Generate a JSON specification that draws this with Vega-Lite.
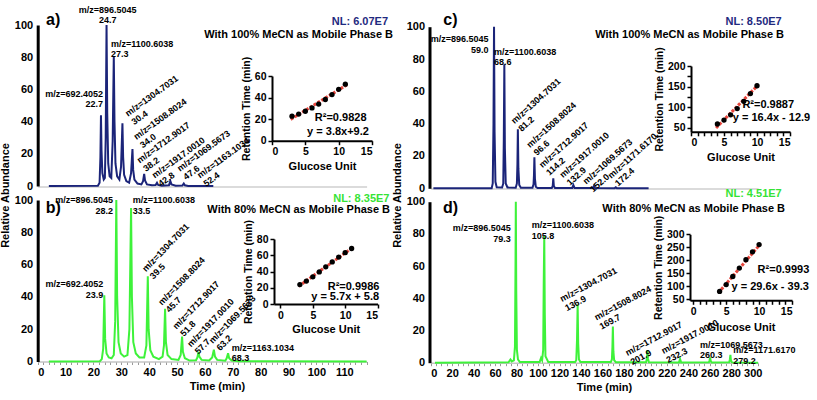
{
"$schema": "https://vega.github.io/schema/vega-lite/v6.json",
"width": 817, "height": 400, "autosize": {"type": "none"}, "padding": 0,
"config": {"view": {"stroke": null}, "font": "Liberation Sans",
  "axis": {"grid": false, "labelFontWeight": "bold", "titleFontWeight": "bold", "labelColor": "#000", "titleColor": "#000", "labelFontSize": 11, "titleFontSize": 11, "labelFont": "Liberation Sans", "titleFont": "Liberation Sans"}},
"datasets": {
"chromA": [{"t":4,"v":0},{"t":21.6,"v":0.2},{"t":22.2,"v":2},{"t":22.5,"v":18},{"t":22.7,"v":44},{"t":22.9,"v":22},{"t":23.2,"v":8},{"t":23.7,"v":4},{"t":24.1,"v":5},{"t":24.4,"v":30},{"t":24.7,"v":100},{"t":24.95,"v":45},{"t":25.3,"v":14},{"t":25.8,"v":6},{"t":26.4,"v":5},{"t":26.9,"v":28},{"t":27.3,"v":80.5},{"t":27.55,"v":40},{"t":27.9,"v":14},{"t":28.5,"v":6},{"t":29.3,"v":4},{"t":29.9,"v":12},{"t":30.4,"v":39},{"t":30.65,"v":18},{"t":31.0,"v":7},{"t":31.8,"v":3},{"t":32.8,"v":2},{"t":33.5,"v":8},{"t":34.0,"v":23},{"t":34.25,"v":10},{"t":34.7,"v":4},{"t":35.8,"v":1.5},{"t":37.2,"v":1},{"t":37.8,"v":3},{"t":38.2,"v":7.5},{"t":38.5,"v":3.5},{"t":39.2,"v":1},{"t":41,"v":0.4},{"t":42.3,"v":0.6},{"t":42.8,"v":2},{"t":43.2,"v":0.7},{"t":44.5,"v":0.2},{"t":47.1,"v":0.5},{"t":47.6,"v":3},{"t":48.0,"v":1},{"t":49.5,"v":0.2},{"t":51.9,"v":0.3},{"t":52.4,"v":1.5},{"t":52.8,"v":0.4},{"t":54,"v":0},{"t":63,"v":0}],
"chromB": [{"t":4,"v":0},{"t":22.3,"v":0.2},{"t":23.0,"v":1.5},{"t":23.5,"v":8},{"t":23.9,"v":41},{"t":24.2,"v":14},{"t":24.7,"v":5},{"t":25.5,"v":2.5},{"t":26.5,"v":2},{"t":27.3,"v":4},{"t":27.8,"v":25},{"t":28.2,"v":100},{"t":28.5,"v":40},{"t":29.0,"v":12},{"t":29.8,"v":5},{"t":31.0,"v":3},{"t":32.2,"v":4},{"t":32.9,"v":20},{"t":33.5,"v":95},{"t":33.8,"v":40},{"t":34.3,"v":12},{"t":35.2,"v":5},{"t":36.5,"v":2.5},{"t":38.2,"v":2.5},{"t":39.0,"v":10},{"t":39.5,"v":52.7},{"t":39.8,"v":20},{"t":40.4,"v":7},{"t":41.5,"v":3},{"t":43.5,"v":1.5},{"t":44.8,"v":3},{"t":45.3,"v":10},{"t":45.7,"v":32.6},{"t":46.0,"v":12},{"t":46.6,"v":4},{"t":48,"v":1.5},{"t":50.5,"v":1},{"t":51.3,"v":4},{"t":51.8,"v":15.4},{"t":52.1,"v":6},{"t":52.8,"v":2},{"t":54.5,"v":0.6},{"t":56.8,"v":0.8},{"t":57.3,"v":2.5},{"t":57.7,"v":6},{"t":58.0,"v":3},{"t":58.8,"v":1},{"t":61.5,"v":0.6},{"t":62.6,"v":2.5},{"t":63.2,"v":7.3},{"t":63.6,"v":3},{"t":64.4,"v":1},{"t":67.3,"v":0.5},{"t":67.8,"v":2},{"t":68.3,"v":5.1},{"t":68.7,"v":2},{"t":69.6,"v":0.6},{"t":72,"v":0.1},{"t":118,"v":0}],
"chromC": [{"t":2.5,"v":0},{"t":56.8,"v":0},{"t":57.8,"v":3},{"t":58.5,"v":40},{"t":59.0,"v":100},{"t":59.5,"v":35},{"t":60.3,"v":4},{"t":61.5,"v":0.6},{"t":66.5,"v":0.5},{"t":67.6,"v":3},{"t":68.1,"v":30},{"t":68.6,"v":76.7},{"t":69.1,"v":25},{"t":69.9,"v":3},{"t":71.5,"v":0.5},{"t":79.2,"v":0.4},{"t":80.3,"v":3},{"t":80.8,"v":15},{"t":81.2,"v":36.5},{"t":81.7,"v":12},{"t":82.5,"v":2},{"t":84,"v":0.3},{"t":94.8,"v":0.3},{"t":95.8,"v":2.5},{"t":96.2,"v":8},{"t":96.6,"v":19.2},{"t":97.1,"v":6},{"t":97.9,"v":1},{"t":99.5,"v":0.2},{"t":112.8,"v":0.2},{"t":113.7,"v":1.5},{"t":114.2,"v":6.2},{"t":114.7,"v":1.5},{"t":115.8,"v":0.2},{"t":131.8,"v":0.2},{"t":132.9,"v":2},{"t":134,"v":0.2},{"t":151,"v":0.2},{"t":152,"v":1.4},{"t":153,"v":0.2},{"t":171.5,"v":0.1},{"t":172.4,"v":0.6},{"t":173.3,"v":0.1},{"t":203,"v":0}],
"chromD": [{"t":4,"v":0},{"t":72.5,"v":0.3},{"t":74.3,"v":2},{"t":75.5,"v":0.8},{"t":77.5,"v":1.5},{"t":78.5,"v":10},{"t":79.0,"v":60},{"t":79.3,"v":100},{"t":79.7,"v":45},{"t":80.3,"v":8},{"t":81.3,"v":2},{"t":83,"v":0.5},{"t":101.5,"v":0.5},{"t":102.8,"v":3},{"t":103.8,"v":1.5},{"t":104.8,"v":8},{"t":105.3,"v":50},{"t":105.8,"v":78.7},{"t":106.3,"v":30},{"t":106.9,"v":4},{"t":108,"v":2.5},{"t":109.5,"v":0.5},{"t":134.5,"v":0.4},{"t":135.6,"v":1.5},{"t":136.3,"v":14},{"t":136.9,"v":36.2},{"t":137.4,"v":12},{"t":138.1,"v":2},{"t":139.5,"v":0.4},{"t":167.8,"v":0.4},{"t":168.8,"v":2},{"t":169.3,"v":10},{"t":169.7,"v":22.4},{"t":170.2,"v":7},{"t":170.9,"v":1.5},{"t":172.5,"v":0.3},{"t":200.7,"v":0.3},{"t":201.4,"v":2.5},{"t":201.9,"v":7.9},{"t":202.4,"v":2.5},{"t":203.3,"v":0.3},{"t":231.3,"v":0.2},{"t":232.3,"v":2.3},{"t":233.3,"v":0.2},{"t":259.2,"v":0.3},{"t":259.8,"v":1.5},{"t":260.3,"v":3.3},{"t":260.8,"v":1.2},{"t":261.6,"v":0.2},{"t":278.1,"v":0.3},{"t":278.7,"v":2},{"t":279.2,"v":4.8},{"t":279.7,"v":1.5},{"t":280.6,"v":0.2},{"t":305,"v":0}],
"ann": [
{"p":"a","k":"r","t":23.4,"v":57.3,"s":"m/z=692.4052\n22.7"},
{"p":"a","k":"c","t":25.1,"v":109.6,"s":"m/z=896.5045\n24.7"},
{"p":"a","k":"l","t":26.3,"v":88.5,"s":"m/z=1100.6038\n27.3"},
{"p":"a","k":"rot","t":31.8,"v":44.5,"s":"m/z=1304.7031\n30.4"},
{"p":"a","k":"rot","t":34.8,"v":30.1,"s":"m/z=1508.8024\n34.0"},
{"p":"a","k":"rot","t":36.0,"v":15.5,"s":"m/z=1712.9017\n38.2"},
{"p":"a","k":"rot","t":41.4,"v":6.2,"s":"m/z=1917.0010\n42.8"},
{"p":"a","k":"rot","t":50.4,"v":10.4,"s":"m/z=1069.5673\n47.6"},
{"p":"a","k":"rot","t":57.6,"v":6.2,"s":"m/z=1163.1034\n52.4"},
{"p":"a","k":"nl","t":125.7,"v":101.6,"s":"NL: 6.07E7"},
{"p":"a","k":"title","t":127.5,"v":93.6,"s":"With 100% MeCN as Mobile Phase B"},
{"p":"a","k":"letter","t":3.0,"v":103.1,"s":"a)"},
{"p":"b","k":"r","t":23.5,"v":47.8,"s":"m/z=692.4052\n23.9"},
{"p":"b","k":"r","t":27.0,"v":100,"s":"m/z=896.5045\n28.2"},
{"p":"b","k":"l","t":34.1,"v":100,"s":"m/z=1100.6038\n33.5"},
{"p":"b","k":"l","t":69.6,"v":8.4,"s":"m/z=1163.1034\n68.3"},
{"p":"b","k":"rot","t":38.1,"v":56.5,"s":"m/z=1304.7031\n39.5"},
{"p":"b","k":"rot","t":43.8,"v":35.8,"s":"m/z=1508.8024\n45.7"},
{"p":"b","k":"rot","t":49.0,"v":20.9,"s":"m/z=1712.9017\n51.8"},
{"p":"b","k":"rot","t":54.2,"v":10,"s":"m/z=1917.0010\n57.7"},
{"p":"b","k":"rot","t":62.0,"v":12.1,"s":"m/z=1069.5673\n63.2"},
{"p":"b","k":"nl","t":126.2,"v":100.8,"s":"NL: 8.35E7"},
{"p":"b","k":"title","t":126.4,"v":94.0,"s":"With 80% MeCN as Mobile Phase B"},
{"p":"b","k":"letter","t":2.9,"v":94.8,"s":"b)"},
{"p":"c","k":"r","t":53.9,"v":92.1,"s":"m/z=896.5045\n59.0"},
{"p":"c","k":"l","t":59.0,"v":84.5,"s":"m/z=1100.6038\n68.6"},
{"p":"c","k":"rot","t":76.3,"v":41,"s":"m/z=1304.7031\n81.2"},
{"p":"c","k":"rot","t":90.7,"v":26.2,"s":"m/z=1508.8024\n96.6"},
{"p":"c","k":"rot","t":102.2,"v":13.8,"s":"m/z=1712.9017\n114.2"},
{"p":"c","k":"rot","t":121.4,"v":7.6,"s":"m/z=1917.0010\n132.9"},
{"p":"c","k":"rot","t":143.1,"v":3.5,"s":"m/z=1069.5673\n152.0"},
{"p":"c","k":"rot","t":166.4,"v":7.2,"s":"m/z=1171.6170\n172.4"},
{"p":"c","k":"nl","t":327,"v":102.7,"s":"NL: 8.50E7"},
{"p":"c","k":"title","t":329.2,"v":94.7,"s":"With 100% MeCN as Mobile Phase B"},
{"p":"c","k":"letter","t":11.7,"v":104.1,"s":"c)"},
{"p":"d","k":"r","t":74.5,"v":83.5,"s":"m/z=896.5045\n79.3"},
{"p":"d","k":"l","t":94.1,"v":85.5,"s":"m/z=1100.6038\n105.8"},
{"p":"d","k":"rot","t":121.1,"v":39.3,"s":"m/z=1304.7031\n136.9"},
{"p":"d","k":"rot","t":153.1,"v":27.9,"s":"m/z=1508.8024\n169.7"},
{"p":"d","k":"rot","t":182,"v":5.8,"s":"m/z=1712.9017\n201.9"},
{"p":"d","k":"rot","t":215.5,"v":7,"s":"m/z=1917.0010\n232.3"},
{"p":"d","k":"l","t":250.9,"v":11.0,"s":"m/z=1069.5673\n260.3"},
{"p":"d","k":"l","t":281.8,"v":7.6,"s":"m/z=1171.6170\n279.2"},
{"p":"d","k":"nl","t":327,"v":104.6,"s":"NL: 4.51E7"},
{"p":"d","k":"title","t":330.1,"v":95.7,"s":"With 80% MeCN as Mobile Phase B"},
{"p":"d","k":"letter","t":11.5,"v":96,"s":"d)"}
],
"pts": [
{"p":"a","gu":3,"rt":22.7},{"p":"a","gu":4,"rt":24.7},{"p":"a","gu":5,"rt":27.3},{"p":"a","gu":6,"rt":30.4},{"p":"a","gu":7,"rt":34.0},{"p":"a","gu":8,"rt":38.2},{"p":"a","gu":9,"rt":42.8},{"p":"a","gu":10,"rt":47.6},{"p":"a","gu":11,"rt":52.4},
{"p":"b","gu":3,"rt":23.9},{"p":"b","gu":4,"rt":28.2},{"p":"b","gu":5,"rt":33.5},{"p":"b","gu":6,"rt":39.5},{"p":"b","gu":7,"rt":45.7},{"p":"b","gu":8,"rt":51.8},{"p":"b","gu":9,"rt":57.7},{"p":"b","gu":10,"rt":63.2},{"p":"b","gu":11,"rt":68.3},
{"p":"c","gu":4,"rt":59.0},{"p":"c","gu":5,"rt":68.6},{"p":"c","gu":6,"rt":81.2},{"p":"c","gu":7,"rt":96.6},{"p":"c","gu":8,"rt":114.2},{"p":"c","gu":9,"rt":132.9},{"p":"c","gu":10,"rt":152.0},
{"p":"d","gu":4,"rt":79.3},{"p":"d","gu":5,"rt":105.8},{"p":"d","gu":6,"rt":136.9},{"p":"d","gu":7,"rt":169.7},{"p":"d","gu":8,"rt":201.9},{"p":"d","gu":9,"rt":232.3},{"p":"d","gu":10,"rt":260.3}
],
"fit": [
{"p":"a","gu":2.8,"rt":19.8},{"p":"a","gu":11.3,"rt":52.1},
{"p":"b","gu":2.8,"rt":21.8},{"p":"b","gu":11.3,"rt":70.2},
{"p":"c","gu":3.8,"rt":49.4},{"p":"c","gu":10.2,"rt":154.4},
{"p":"d","gu":3.8,"rt":73.2},{"p":"d","gu":10.2,"rt":262.6}
],
"itext": [
{"p":"a","gu":10.3,"rt":20.8,"s":"R²=0.9828"},{"p":"a","gu":9.9,"rt":8.1,"s":"y = 3.8x+9.2"},
{"p":"b","gu":11.3,"rt":21.3,"s":"R²=0.9986"},{"p":"b","gu":10.0,"rt":8.3,"s":"y = 5.7x + 5.8"},
{"p":"c","gu":11.7,"rt":105.2,"s":"R²=0.9887"},{"p":"c","gu":12.2,"rt":72.8,"s":"y = 16.4x - 12.9"},
{"p":"d","gu":13.7,"rt":162.1,"s":"R²=0.9993"},{"p":"d","gu":11.7,"rt":97.5,"s":"y = 29.6x - 39.3"}
]
},
"layer": [
{
 "encoding": {
  "x": {"field":"t","type":"quantitative","scale":{"domain":[0,118],"range":[37.7,366.6],"nice":false,"zero":false},"axis":{"orient":"bottom","offset":-213.5,"labels":false,"ticks":false,"domainColor":"#cfcfcf","domainWidth":1.5,"title":null}},
  "y": {"field":"v","type":"quantitative","scale":{"domain":[0,100],"range":[186,25],"nice":false,"zero":false},"axis":{"orient":"left","offset":-37.7,"values":[0,20,40,60,80,100],"domainWidth":3,"domainColor":"#000","tickSize":0,"labelPadding":5,"title":null}}
 },
 "layer": [
  {"data":{"name":"chromA"},"mark":{"type":"line","color":"#1b2479","strokeWidth":2}},
  {"data":{"name":"ann"},"transform":[{"filter":"datum.p==='a' && datum.k==='r'"}],"mark":{"type":"text","fontWeight":"bold","fontSize":9,"lineBreak":"\n","lineHeight":10.5,"baseline":"middle","align":"right"},"encoding":{"text":{"field":"s","type":"nominal"}}},
  {"data":{"name":"ann"},"transform":[{"filter":"datum.p==='a' && datum.k==='c'"}],"mark":{"type":"text","fontWeight":"bold","fontSize":9,"lineBreak":"\n","lineHeight":10.5,"baseline":"middle","align":"center"},"encoding":{"text":{"field":"s","type":"nominal"}}},
  {"data":{"name":"ann"},"transform":[{"filter":"datum.p==='a' && datum.k==='l'"}],"mark":{"type":"text","fontWeight":"bold","fontSize":9,"lineBreak":"\n","lineHeight":10.5,"baseline":"middle","align":"left"},"encoding":{"text":{"field":"s","type":"nominal"}}},
  {"data":{"name":"ann"},"transform":[{"filter":"datum.p==='a' && datum.k==='rot'"}],"mark":{"type":"text","fontWeight":"bold","fontSize":9,"lineBreak":"\n","lineHeight":10.5,"baseline":"middle","align":"left","angle":324},"encoding":{"text":{"field":"s","type":"nominal"}}},
  {"data":{"name":"ann"},"transform":[{"filter":"datum.p==='a' && datum.k==='nl'"}],"mark":{"type":"text","fontWeight":"bold","fontSize":11,"baseline":"middle","align":"right","color":"#1f2a80"},"encoding":{"text":{"field":"s","type":"nominal"}}},
  {"data":{"name":"ann"},"transform":[{"filter":"datum.p==='a' && datum.k==='title'"}],"mark":{"type":"text","fontWeight":"bold","fontSize":11,"baseline":"middle","align":"right","color":"#000"},"encoding":{"text":{"field":"s","type":"nominal"}}},
  {"data":{"name":"ann"},"transform":[{"filter":"datum.p==='a' && datum.k==='letter'"}],"mark":{"type":"text","fontWeight":"bold","fontSize":16,"baseline":"middle","align":"left","color":"#000"},"encoding":{"text":{"field":"s","type":"nominal"}}}
 ]
},
{
 "encoding": {
  "x": {"field":"t","type":"quantitative","scale":{"domain":[0,118],"range":[37.7,366.6],"nice":false,"zero":false},"axis":{"orient":"bottom","offset":-38.5,"values":[0,2,4,6,8,10,12,14,16,18,20,22,24,26,28,30,32,34,36,38,40,42,44,46,48,50,52,54,56,58,60,62,64,66,68,70,72,74,76,78,80,82,84,86,88,90,92,94,96,98,100,102,104,106,108,110,112,114,116,118],"labelExpr":"datum.value % 10 === 0 ? datum.label : ''","domainColor":"#c4c4c4","domainWidth":1.5,"tickColor":"#999","tickSize":3,"labelPadding":2,"title":"Time (min)","titleX":217,"titlePadding":3}},
  "y": {"field":"v","type":"quantitative","scale":{"domain":[0,100],"range":[361.5,200],"nice":false,"zero":false},"axis":{"orient":"left","offset":-37.7,"values":[0,20,40,60,80,100],"domainWidth":3,"domainColor":"#000","tickSize":0,"labelPadding":5,"title":"Relative Abundance","titleY":195,"titlePadding":4}}
 },
 "layer": [
  {"data":{"name":"chromB"},"mark":{"type":"line","color":"#3ef23a","strokeWidth":2}},
  {"data":{"name":"ann"},"transform":[{"filter":"datum.p==='b' && datum.k==='r'"}],"mark":{"type":"text","fontWeight":"bold","fontSize":9,"lineBreak":"\n","lineHeight":10.5,"baseline":"middle","align":"right"},"encoding":{"text":{"field":"s","type":"nominal"}}},
  {"data":{"name":"ann"},"transform":[{"filter":"datum.p==='b' && datum.k==='l'"}],"mark":{"type":"text","fontWeight":"bold","fontSize":9,"lineBreak":"\n","lineHeight":10.5,"baseline":"middle","align":"left"},"encoding":{"text":{"field":"s","type":"nominal"}}},
  {"data":{"name":"ann"},"transform":[{"filter":"datum.p==='b' && datum.k==='rot'"}],"mark":{"type":"text","fontWeight":"bold","fontSize":9,"lineBreak":"\n","lineHeight":10.5,"baseline":"middle","align":"left","angle":314},"encoding":{"text":{"field":"s","type":"nominal"}}},
  {"data":{"name":"ann"},"transform":[{"filter":"datum.p==='b' && datum.k==='nl'"}],"mark":{"type":"text","fontWeight":"bold","fontSize":11,"baseline":"middle","align":"right","color":"#35e335"},"encoding":{"text":{"field":"s","type":"nominal"}}},
  {"data":{"name":"ann"},"transform":[{"filter":"datum.p==='b' && datum.k==='title'"}],"mark":{"type":"text","fontWeight":"bold","fontSize":11,"baseline":"middle","align":"right","color":"#000"},"encoding":{"text":{"field":"s","type":"nominal"}}},
  {"data":{"name":"ann"},"transform":[{"filter":"datum.p==='b' && datum.k==='letter'"}],"mark":{"type":"text","fontWeight":"bold","fontSize":16,"baseline":"middle","align":"left","color":"#000"},"encoding":{"text":{"field":"s","type":"nominal"}}}
 ]
},
{
 "encoding": {
  "x": {"field":"t","type":"quantitative","scale":{"domain":[0,305],"range":[430.7,758.1],"nice":false,"zero":false},"axis":{"orient":"bottom","offset":-211.5,"labels":false,"ticks":false,"domainColor":"#cfcfcf","domainWidth":1.5,"title":null}},
  "y": {"field":"v","type":"quantitative","scale":{"domain":[0,100],"range":[188.3,26.7],"nice":false,"zero":false},"axis":{"orient":"left","offset":-429.5,"values":[0,20,40,60,80,100],"domainWidth":3,"domainColor":"#000","tickSize":0,"labelPadding":5,"title":null}}
 },
 "layer": [
  {"data":{"name":"chromC"},"mark":{"type":"line","color":"#1b2479","strokeWidth":2}},
  {"data":{"name":"ann"},"transform":[{"filter":"datum.p==='c' && datum.k==='r'"}],"mark":{"type":"text","fontWeight":"bold","fontSize":9,"lineBreak":"\n","lineHeight":10.5,"baseline":"middle","align":"right"},"encoding":{"text":{"field":"s","type":"nominal"}}},
  {"data":{"name":"ann"},"transform":[{"filter":"datum.p==='c' && datum.k==='l'"}],"mark":{"type":"text","fontWeight":"bold","fontSize":9,"lineBreak":"\n","lineHeight":10.5,"baseline":"middle","align":"left"},"encoding":{"text":{"field":"s","type":"nominal"}}},
  {"data":{"name":"ann"},"transform":[{"filter":"datum.p==='c' && datum.k==='rot'"}],"mark":{"type":"text","fontWeight":"bold","fontSize":9,"lineBreak":"\n","lineHeight":10.5,"baseline":"middle","align":"left","angle":318},"encoding":{"text":{"field":"s","type":"nominal"}}},
  {"data":{"name":"ann"},"transform":[{"filter":"datum.p==='c' && datum.k==='nl'"}],"mark":{"type":"text","fontWeight":"bold","fontSize":11,"baseline":"middle","align":"right","color":"#1f2a80"},"encoding":{"text":{"field":"s","type":"nominal"}}},
  {"data":{"name":"ann"},"transform":[{"filter":"datum.p==='c' && datum.k==='title'"}],"mark":{"type":"text","fontWeight":"bold","fontSize":11,"baseline":"middle","align":"right","color":"#000"},"encoding":{"text":{"field":"s","type":"nominal"}}},
  {"data":{"name":"ann"},"transform":[{"filter":"datum.p==='c' && datum.k==='letter'"}],"mark":{"type":"text","fontWeight":"bold","fontSize":16,"baseline":"middle","align":"left","color":"#000"},"encoding":{"text":{"field":"s","type":"nominal"}}}
 ]
},
{
 "encoding": {
  "x": {"field":"t","type":"quantitative","scale":{"domain":[0,305],"range":[430.7,758.1],"nice":false,"zero":false},"axis":{"orient":"bottom","offset":-37.3,"values":[0,5,10,15,20,25,30,35,40,45,50,55,60,65,70,75,80,85,90,95,100,105,110,115,120,125,130,135,140,145,150,155,160,165,170,175,180,185,190,195,200,205,210,215,220,225,230,235,240,245,250,255,260,265,270,275,280,285,290,295,300,305],"labelExpr":"datum.value % 20 === 0 ? datum.label : ''","domainColor":"#c4c4c4","domainWidth":1.5,"tickColor":"#999","tickSize":3,"labelPadding":2,"title":"Time (min)","titleX":604,"titlePadding":3}},
  "y": {"field":"v","type":"quantitative","scale":{"domain":[0,100],"range":[362.7,201.7],"nice":false,"zero":false},"axis":{"orient":"left","offset":-429.5,"values":[0,20,40,60,80,100],"domainWidth":3,"domainColor":"#000","tickSize":0,"labelPadding":5,"title":"Relative Abundance","titleY":195,"titlePadding":4}}
 },
 "layer": [
  {"data":{"name":"chromD"},"mark":{"type":"line","color":"#3ef23a","strokeWidth":2}},
  {"data":{"name":"ann"},"transform":[{"filter":"datum.p==='d' && datum.k==='r'"}],"mark":{"type":"text","fontWeight":"bold","fontSize":9,"lineBreak":"\n","lineHeight":10.5,"baseline":"middle","align":"right"},"encoding":{"text":{"field":"s","type":"nominal"}}},
  {"data":{"name":"ann"},"transform":[{"filter":"datum.p==='d' && datum.k==='l'"}],"mark":{"type":"text","fontWeight":"bold","fontSize":9,"lineBreak":"\n","lineHeight":10.5,"baseline":"middle","align":"left"},"encoding":{"text":{"field":"s","type":"nominal"}}},
  {"data":{"name":"ann"},"transform":[{"filter":"datum.p==='d' && datum.k==='rot'"}],"mark":{"type":"text","fontWeight":"bold","fontSize":9,"lineBreak":"\n","lineHeight":10.5,"baseline":"middle","align":"left","angle":332},"encoding":{"text":{"field":"s","type":"nominal"}}},
  {"data":{"name":"ann"},"transform":[{"filter":"datum.p==='d' && datum.k==='nl'"}],"mark":{"type":"text","fontWeight":"bold","fontSize":11,"baseline":"middle","align":"right","color":"#35e335"},"encoding":{"text":{"field":"s","type":"nominal"}}},
  {"data":{"name":"ann"},"transform":[{"filter":"datum.p==='d' && datum.k==='title'"}],"mark":{"type":"text","fontWeight":"bold","fontSize":11,"baseline":"middle","align":"right","color":"#000"},"encoding":{"text":{"field":"s","type":"nominal"}}},
  {"data":{"name":"ann"},"transform":[{"filter":"datum.p==='d' && datum.k==='letter'"}],"mark":{"type":"text","fontWeight":"bold","fontSize":16,"baseline":"middle","align":"left","color":"#000"},"encoding":{"text":{"field":"s","type":"nominal"}}}
 ]
},
{
 "encoding": {
  "x": {"field":"gu","type":"quantitative","scale":{"domain":[0,15],"range":[272,372],"nice":false,"zero":false},"axis":{"orient":"bottom","offset":-259.3,"values":[0,5,10,15],"domainWidth":2,"domainColor":"#000","tickColor":"#000","tickWidth":1.5,"tickSize":4,"labelPadding":2,"labelFontSize":10.5,"title":"Glucose Unit","titlePadding":3}},
  "y": {"field":"rt","type":"quantitative","scale":{"domain":[0,60],"range":[140.7,76],"nice":false,"zero":false},"axis":{"orient":"left","offset":-272,"values":[0,20,40,60],"domainWidth":2,"domainColor":"#000","tickColor":"#000","tickWidth":1.5,"tickSize":4,"labelPadding":2,"labelFontSize":10.5,"title":"Retention Time (min)","titleFontSize":10.5,"titlePadding":3}}
 },
 "layer": [
  {"data":{"name":"fit"},"transform":[{"filter":"datum.p==='a'"}],"mark":{"type":"line","color":"#e8453c","strokeWidth":3,"strokeDash":[3,1.5],"opacity":1}},
  {"data":{"name":"pts"},"transform":[{"filter":"datum.p==='a'"}],"mark":{"type":"circle","color":"#000","size":28,"opacity":1}},
  {"data":{"name":"itext"},"transform":[{"filter":"datum.p==='a'"}],"mark":{"type":"text","fontWeight":"bold","fontSize":11,"baseline":"middle","align":"center","color":"#000"},"encoding":{"text":{"field":"s","type":"nominal"}}}
 ]
},
{
 "encoding": {
  "x": {"field":"gu","type":"quantitative","scale":{"domain":[-1,15],"range":[274,377.5],"nice":false,"zero":false},"axis":{"orient":"bottom","offset":-96,"values":[0,5,10,15],"domainWidth":2,"domainColor":"#000","tickColor":"#000","tickWidth":1.5,"tickSize":4,"labelPadding":2,"labelFontSize":10.5,"title":"Glucose Unit","titlePadding":3}},
  "y": {"field":"rt","type":"quantitative","scale":{"domain":[0,80],"range":[304,239],"nice":false,"zero":false},"axis":{"orient":"left","offset":-274,"values":[0,20,40,60,80],"domainWidth":2,"domainColor":"#000","tickColor":"#000","tickWidth":1.5,"tickSize":4,"labelPadding":2,"labelFontSize":10.5,"title":"Retention Time (min)","titleFontSize":10.5,"titlePadding":3}}
 },
 "layer": [
  {"data":{"name":"fit"},"transform":[{"filter":"datum.p==='b'"}],"mark":{"type":"line","color":"#e8453c","strokeWidth":3,"strokeDash":[3,1.5],"opacity":1}},
  {"data":{"name":"pts"},"transform":[{"filter":"datum.p==='b'"}],"mark":{"type":"circle","color":"#000","size":28,"opacity":1}},
  {"data":{"name":"itext"},"transform":[{"filter":"datum.p==='b'"}],"mark":{"type":"text","fontWeight":"bold","fontSize":11,"baseline":"middle","align":"center","color":"#000"},"encoding":{"text":{"field":"s","type":"nominal"}}}
 ]
},
{
 "encoding": {
  "x": {"field":"gu","type":"quantitative","scale":{"domain":[0,15],"range":[691,790],"nice":false,"zero":false},"axis":{"orient":"bottom","offset":-268.2,"values":[0,1,2,3,4,5,6,7,8,9,10,11,12,13,14,15],"labelExpr":"datum.value % 5 === 0 ? datum.label : ''","domainWidth":2,"domainColor":"#000","tickColor":"#000","tickWidth":1.5,"tickSize":4,"labelPadding":2,"labelFontSize":10.5,"title":"Glucose Unit","titlePadding":3}},
  "y": {"field":"rt","type":"quantitative","scale":{"domain":[40,200],"range":[131.8,66],"nice":false,"zero":false},"axis":{"orient":"left","offset":-691,"values":[50,75,100,125,150,175,200],"labelExpr":"datum.value % 50 === 0 ? datum.label : ''","domainWidth":2,"domainColor":"#000","tickColor":"#000","tickWidth":1.5,"tickSize":4,"labelPadding":2,"labelFontSize":10.5,"title":"Retention Time (min)","titleFontSize":10.5,"titlePadding":3}}
 },
 "layer": [
  {"data":{"name":"fit"},"transform":[{"filter":"datum.p==='c'"}],"mark":{"type":"line","color":"#e8453c","strokeWidth":3,"strokeDash":[3,1.5],"opacity":1}},
  {"data":{"name":"pts"},"transform":[{"filter":"datum.p==='c'"}],"mark":{"type":"circle","color":"#000","size":28,"opacity":1}},
  {"data":{"name":"itext"},"transform":[{"filter":"datum.p==='c'"}],"mark":{"type":"text","fontWeight":"bold","fontSize":11,"baseline":"middle","align":"center","color":"#000"},"encoding":{"text":{"field":"s","type":"nominal"}}}
 ]
},
{
 "encoding": {
  "x": {"field":"gu","type":"quantitative","scale":{"domain":[-0.5,15],"range":[690,792],"nice":false,"zero":false},"axis":{"orient":"bottom","offset":-99.7,"values":[0,1,2,3,4,5,6,7,8,9,10,11,12,13,14,15],"labelExpr":"datum.value % 5 === 0 ? datum.label : ''","domainWidth":2,"domainColor":"#000","tickColor":"#000","tickWidth":1.5,"tickSize":4,"labelPadding":2,"labelFontSize":10.5,"title":"Glucose Unit","titlePadding":5}},
  "y": {"field":"rt","type":"quantitative","scale":{"domain":[45,300],"range":[300.3,234.3],"nice":false,"zero":false},"axis":{"orient":"left","offset":-690,"values":[50,100,150,200,250,300],"domainWidth":2,"domainColor":"#000","tickColor":"#000","tickWidth":1.5,"tickSize":4,"labelPadding":2,"labelFontSize":10.5,"title":"Retention Time (min)","titleFontSize":10.5,"titlePadding":3}}
 },
 "layer": [
  {"data":{"name":"fit"},"transform":[{"filter":"datum.p==='d'"}],"mark":{"type":"line","color":"#e8453c","strokeWidth":3,"strokeDash":[3,1.5],"opacity":1}},
  {"data":{"name":"pts"},"transform":[{"filter":"datum.p==='d'"}],"mark":{"type":"circle","color":"#000","size":28,"opacity":1}},
  {"data":{"name":"itext"},"transform":[{"filter":"datum.p==='d'"}],"mark":{"type":"text","fontWeight":"bold","fontSize":11,"baseline":"middle","align":"center","color":"#000"},"encoding":{"text":{"field":"s","type":"nominal"}}}
 ]
}
],
"resolve": {"scale": {"x": "independent", "y": "independent"}, "axis": {"x": "independent", "y": "independent"}}
}
